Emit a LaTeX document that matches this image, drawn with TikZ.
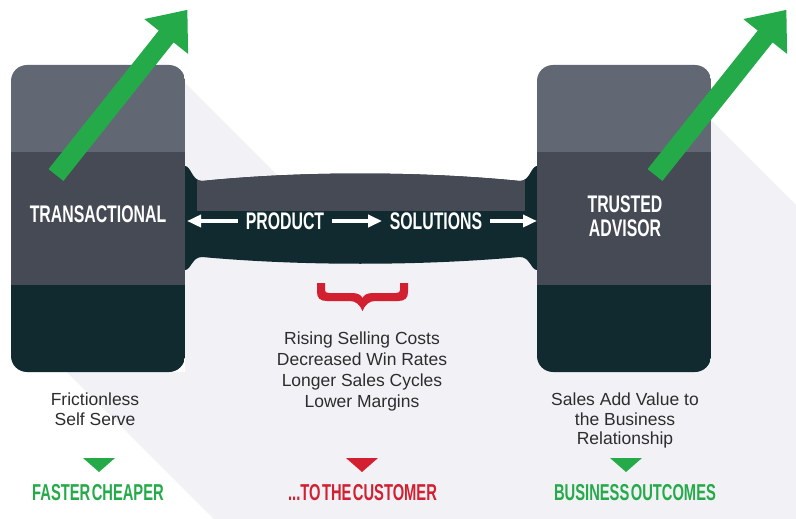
\documentclass[tikz,border=0pt]{standalone}
\usepackage{fontspec}
\setmainfont{Liberation Sans}
\newfontfamily\condfont[FakeStretch=0.66]{Liberation Sans}
\newfontfamily\condfontb[FakeStretch=0.64]{Liberation Sans}
\usetikzlibrary{arrows.meta}
\definecolor{bandtop}{RGB}{98,103,116}
\definecolor{bandmid}{RGB}{69,74,85}
\definecolor{banddark}{RGB}{16,42,48}
\definecolor{shadowc}{RGB}{242,242,246}
\definecolor{greenc}{RGB}{37,170,74}
\definecolor{redc}{RGB}{210,32,48}
\definecolor{textc}{RGB}{45,45,45}
\newcommand\drawtower[2]{%
  \begin{scope}
    \clip[rounded corners=16pt] (#1,65) rectangle (#2,372);
    \fill[bandtop] (#1,60) rectangle (#2,152);
    \fill[bandmid] (#1,152) rectangle (#2,285);
    \fill[banddark] (#1,285) rectangle (#2,380);
  \end{scope}}
\newcommand\barpath{(185,166) .. controls (191,166) and (192,181) .. (202,181)
  .. controls (300,171) and (420,171) .. (520,181)
  .. controls (530,181) and (531,166) .. (537,166) -- (537,270)
  .. controls (531,270) and (530,257) .. (520,257)
  .. controls (420,266) and (300,266) .. (202,257)
  .. controls (192,257) and (191,270) .. (185,270) -- cycle}
\begin{document}
\begin{tikzpicture}[x=1pt,y=-1pt,
  tlabel/.style={font=\condfont\bfseries\fontsize{24}{24.5}\selectfont, text=white, inner sep=0pt},
  blabel/.style={font=\condfontb\bfseries\fontsize{23}{23}\selectfont, inner sep=0pt},
  body/.style={font=\fontsize{17.5}{19.7}\selectfont, text=textc, inner sep=0pt, align=center, anchor=north},
  warrow/.style={draw=white, line width=3.5pt, -{Triangle[length=14pt,width=12pt]}},
  bigarrow/.style={fill=greenc},
  downtri/.style={fill=#1}]
\useasboundingbox (0,0) rectangle (796,519);
\fill[white] (0,0) rectangle (796,519);
% long shadow
\fill[shadowc] (185,83) -- (300,198) -- (711,198) -- (711,120) -- (796,205)
  -- (796,519) -- (214,519) -- (67,372) -- (185,372) -- cycle;
% connecting bar
\fill[banddark] \barpath;
\begin{scope}
  \clip \barpath;
  \fill[bandmid] (197,150) rectangle (525,211);
\end{scope}
% towers
\drawtower{11}{185}
\drawtower{537}{711}
% green arrows
\fill[bigarrow, shift={(56,175)}, rotate=51.5] (0,-9.5) -- (177,-9.5) -- (177,-28) -- (211,0) -- (177,28) -- (177,9.5) -- (0,9.5) -- cycle;
\fill[bigarrow, shift={(655,175)}, rotate=51.5] (0,-9.5) -- (177,-9.5) -- (177,-28) -- (211,0) -- (177,28) -- (177,9.5) -- (0,9.5) -- cycle;
% labels on towers and bar
\node[tlabel] (trans) at (98,214) {TRANSACTIONAL};
\node[tlabel, align=center] (trust) at (625,216) {TRUSTED\\ADVISOR};
\node[tlabel, inner xsep=7.5pt] (prod) at (285,221) {PRODUCT};
\node[tlabel, inner xsep=7.5pt] (sol) at (436,221) {SOLUTIONS};
\coordinate (lend) at (187,221);
\coordinate (rend) at (537,221);
\draw[warrow] (prod.west) -- (lend);
\draw[warrow] (prod.east) -- (sol.west);
\draw[warrow] (sol.east) -- (rend);
% red brace
\fill[redc] (317,283) -- (317,292) .. controls (317,298) and (320,301) .. (327,301)
  -- (350,301) .. controls (356,301) and (360,305) .. (362.5,311)
  .. controls (365,305) and (369,301) .. (375,301) -- (398,301)
  .. controls (405,301) and (408,298) .. (408,292) -- (408,283) -- (400,283)
  -- (400,290) .. controls (400,292) and (399,293) .. (396,293) -- (373,293)
  .. controls (367,293) and (364,295) .. (362.5,298)
  .. controls (361,295) and (358,293) .. (352,293) -- (329,293)
  .. controls (326,293) and (325,292) .. (325,290) -- (325,283) -- cycle;
% body texts
\node[body] (fr) at (95,393) {Frictionless\\Self Serve};
\node[body, font=\fontsize{17.5}{21}\selectfont] (costs) at (362,332) {Rising Selling Costs\\Decreased Win Rates\\Longer Sales Cycles\\Lower Margins};
\node[body, font=\fontsize{17.5}{19.3}\selectfont] (sales) at (625,393) {Sales Add Value to\\the Business\\Relationship};
% triangles
\fill[downtri=greenc] (83,458) -- (115,458) -- (99,472) -- cycle;
\fill[downtri=redc] (346,458) -- (378,458) -- (362,472) -- cycle;
\fill[downtri=greenc] (610,458) -- (642,458) -- (626,472) -- cycle;
% bottom labels
\node[blabel, text=greenc] (fc) at (98,492.5) {FASTER\hspace{1.5pt}CHEAPER};
\node[blabel, text=redc] (cust) at (362.5,492.5) {...TO\hspace{1.5pt}THE\hspace{1.5pt}CUSTOMER};
\node[blabel, text=greenc] (bo) at (635,492.5) {BUSINESS\hspace{1.5pt}OUTCOMES};
\end{tikzpicture}
\end{document}
